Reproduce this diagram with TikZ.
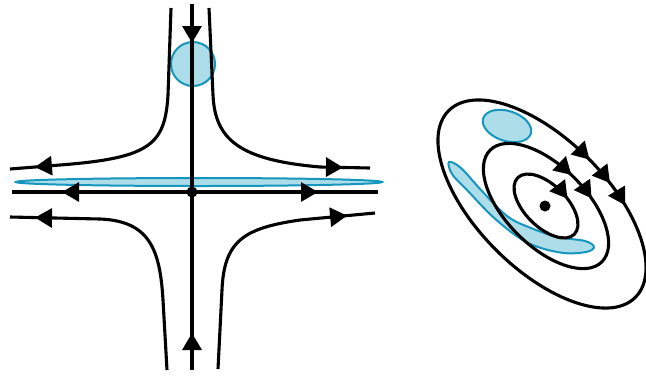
\documentclass[tikz,border=0pt]{standalone}
\usetikzlibrary{arrows.meta,decorations.markings}
\definecolor{bluefill}{RGB}{173,221,232}
\definecolor{bluedraw}{RGB}{20,150,190}
\begin{document}
\begin{tikzpicture}[x=1pt,y=-1pt,
  flow/.style={line width=3.1pt},
  blob/.style={fill=bluefill, draw=bluedraw, line width=2pt},
  dot/.style={circle, fill=black, inner sep=0pt, minimum size=#1},
  tipat/.style={postaction={decorate, decoration={markings,
      mark=at position #1 with {\arrow{Triangle[length=17pt,width=19pt]}}}}},
  rtipat/.style={postaction={decorate, decoration={markings,
      mark=at position #1 with {\arrowreversed{Triangle[length=17pt,width=19pt]}}}}}
]
\useasboundingbox (0,0) rectangle (646,376);

% ---------- left: saddle ----------
\draw[blob] (193,64) circle [radius=22pt];
\draw[blob] (199,182) ellipse [x radius=183pt, y radius=4pt];

\node[dot=11pt] (c) at (192,192) {};
\coordinate (vt) at (192,4);
\coordinate (vb) at (192,370);
\coordinate (hl) at (12,192);
\coordinate (hr) at (378,192);

\draw[flow, tipat=39pt] (vt) -- (c.center);
\draw[flow, tipat=37pt] (vb) -- (c.center);
\draw[flow, tipat=-50pt] (c.center) -- (hl);
\draw[flow, tipat=-60pt] (c.center) -- (hr);

\draw[flow, tipat=-25pt] (171,8) -- (168,95) .. controls (165,145) and (150,158) .. (60,165) -- (10,169);
\draw[flow, tipat=-27pt] (209,8) -- (213,95) .. controls (215,140) and (240,160) .. (320,167) -- (370,168);
\draw[flow, tipat=-25pt] (167,370) -- (163,300) .. controls (160,250) and (150,221) .. (100,219) -- (10,217);
\draw[flow, tipat=-28pt] (218,369) -- (222,290) .. controls (224,240) and (245,228) .. (300,220) -- (375,213);

% ---------- right: spiral / centre ----------
\draw[blob, rotate around={-18:(507,126)}] (507,126) ellipse [x radius=25pt, y radius=15pt];
\draw[blob] plot[smooth cycle, tension=0.6] coordinates {(449,162) (461,168) (481,190) (507,216) (531,228) (558,237) (585,241) (594,247) (586,252) (564,253) (538,247) (518,237) (492,216) (467,190) (452,174)};

\draw[flow, rotate around={-45:(542,204)}, rtipat=99pt, rtipat=126pt, rtipat=157pt]
  (542,204) ellipse [x radius=132pt, y radius=65pt];
\draw[flow, rotate around={-45:(546,206)}, rtipat=69pt, rtipat=100pt]
  (546,206) ellipse [x radius=79pt, y radius=40pt];
\draw[flow, rotate around={-45:(546,206)}, rtipat=39pt]
  (546,206) ellipse [x radius=40pt, y radius=21pt];

\node[dot=11pt] (f) at (545,206) {};
\end{tikzpicture}
\end{document}
